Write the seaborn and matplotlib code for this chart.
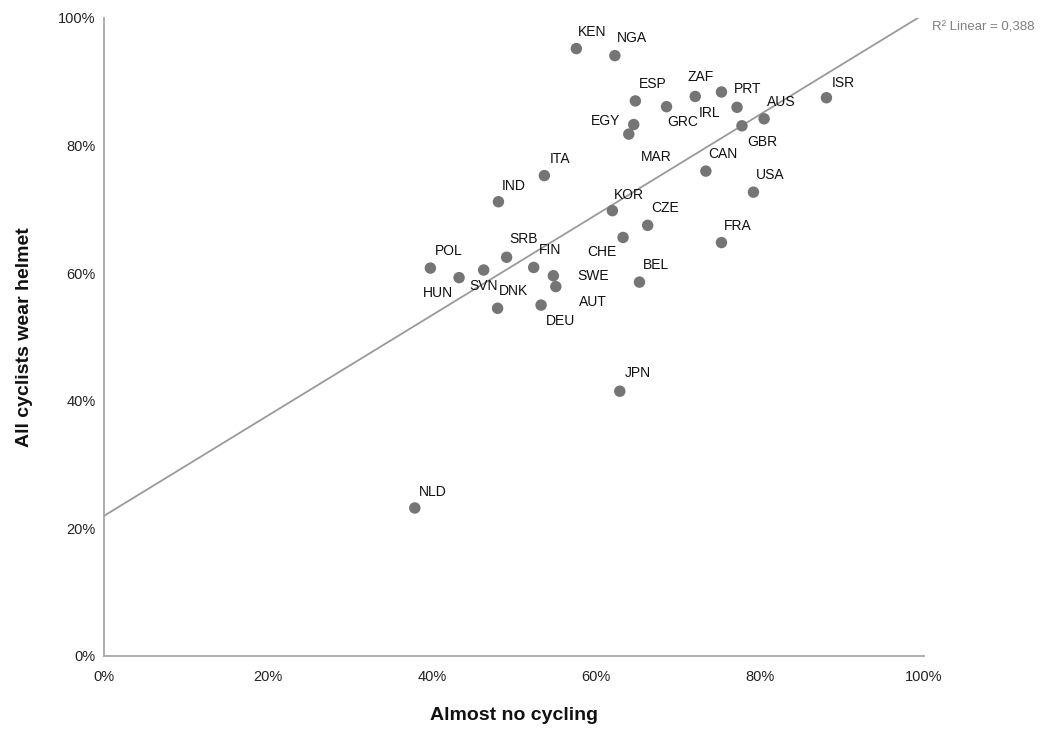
import matplotlib
matplotlib.use("Agg")
import matplotlib.pyplot as plt
import seaborn as sns
import pandas as pd
from matplotlib.ticker import PercentFormatter

countries = ["KEN", "NGA", "ESP", "GRC", "ZAF", "IRL", "PRT", "AUS", "GBR", "ISR",
             "EGY", "MAR", "ITA", "IND", "CAN", "USA", "KOR", "CZE", "CHE", "FRA",
             "SRB", "FIN", "POL", "HUN", "SVN", "SWE", "AUT", "BEL", "DNK", "DEU",
             "NLD", "JPN"]
almost_no_cycling = [57.6, 62.3, 64.8, 68.6, 72.1, 75.3, 77.2, 80.5, 77.8, 88.1,
                     64.6, 64.0, 53.7, 48.1, 73.4, 79.2, 62.0, 66.3, 63.3, 75.3,
                     49.1, 52.4, 39.8, 43.3, 46.3, 54.8, 55.1, 65.3, 48.0, 53.3,
                     37.9, 62.9]
all_wear_helmet = [95.2, 94.1, 87.0, 86.1, 87.7, 88.4, 86.0, 84.2, 83.1, 87.5,
                   83.3, 81.8, 75.3, 71.2, 76.0, 72.7, 69.8, 67.5, 65.6, 64.8,
                   62.5, 60.9, 60.8, 59.3, 60.5, 59.6, 57.9, 58.6, 54.5, 55.0,
                   23.2, 41.5]
r2_text = "R\u00b2 Linear = 0,388"

# label placement (pixel offsets from dot)
label_offsets = {
    "KEN": (16, 17), "NGA": (17, 18), "ESP": (17, 17), "GRC": (16, -15),
    "ZAF": (5, 19), "IRL": (-12, -21), "PRT": (11, 18), "AUS": (17, 17),
    "GBR": (20, -16), "ISR": (17, 15), "EGY": (-28, 4), "MAR": (27, -23),
    "ITA": (16, 17), "IND": (15, 16), "CAN": (17, 17), "USA": (17, 17),
    "KOR": (16, 16), "CZE": (17, 17), "CHE": (-21, -15), "FRA": (16, 17),
    "SRB": (17, 18), "FIN": (16, 17), "POL": (18, 17), "HUN": (-21, -15),
    "SVN": (0, -16), "SWE": (40, 0), "AUT": (37, -15), "BEL": (17, 17),
    "DNK": (16, 17), "DEU": (19, -16), "NLD": (18, 16), "JPN": (18, 18),
}

df = pd.DataFrame({"country": countries, "x": almost_no_cycling, "y": all_wear_helmet})

sns.set_theme(style="white")
plt.rcParams["font.family"] = ["Liberation Sans", "DejaVu Sans"]

fig = plt.figure(figsize=(10.56, 7.31), dpi=100)
ax = fig.add_axes([0.0985, 0.1026, 0.7765, 0.8728])
ax.set_xlim(0, 100)
ax.set_ylim(0, 100)

sns.regplot(data=df, x="x", y="y", ax=ax, scatter=False, ci=None, truncate=False,
            line_kws={"color": "#9a9a9a", "lw": 1.3})
sns.scatterplot(data=df, x="x", y="y", ax=ax, color="#757575", s=68,
                edgecolor="none", zorder=3)

for c, xv, yv in zip(countries, almost_no_cycling, all_wear_helmet):
    dx, dy = label_offsets[c]
    ax.annotate(c, (xv, yv), xytext=(dx, dy), textcoords="offset pixels",
                ha="center", va="center", fontsize=10, color="#111111")

ax.set_xlim(0, 100)
ax.set_ylim(0, 100)
ax.text(1.01, 0.985, r2_text, transform=ax.transAxes, ha="left", va="center",
        fontsize=9.5, color="#808080")

ax.xaxis.set_major_formatter(PercentFormatter(decimals=0))
ax.yaxis.set_major_formatter(PercentFormatter(decimals=0))
ax.set_xticks([0, 20, 40, 60, 80, 100])
ax.set_yticks([0, 20, 40, 60, 80, 100])
ax.tick_params(axis="both", length=0, labelsize=10.5, colors="#222222")
ax.tick_params(axis="x", pad=10)
ax.tick_params(axis="y", pad=6)

for s in ["top", "right"]:
    ax.spines[s].set_visible(False)
for s in ["left", "bottom"]:
    ax.spines[s].set_color("#a8a8a8")
    ax.spines[s].set_linewidth(1.3)

ax.set_xlabel("Almost no cycling", fontsize=14, fontweight="bold", color="#111111")
ax.set_ylabel("All cyclists wear helmet", fontsize=14, fontweight="bold", color="#111111")
ax.xaxis.set_label_coords(0.5, -0.08)
ax.yaxis.set_label_coords(-0.087, 0.5)

fig.savefig("out.png", dpi=100)
